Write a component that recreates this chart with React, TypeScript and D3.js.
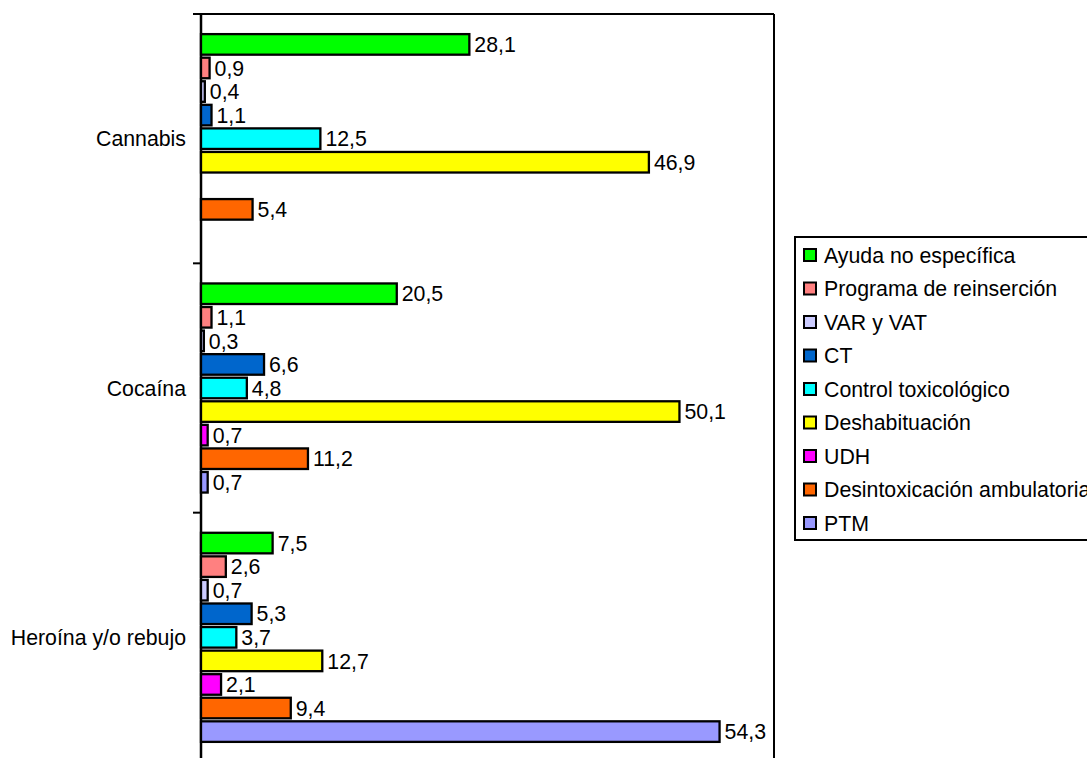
import React from "react";
import * as d3 from "d3";

const categories = ["Cannabis", "Cocaína", "Heroína y/o rebujo"];
const seriesNames = [
  "Ayuda no específica",
  "Programa de reinserción",
  "VAR y VAT",
  "CT",
  "Control toxicológico",
  "Deshabituación",
  "UDH",
  "Desintoxicación ambulatoria",
  "PTM",
];
const seriesColors = [
  "#00FF00",
  "#FF8080",
  "#CCCCFF",
  "#0066CC",
  "#00FFFF",
  "#FFFF00",
  "#FF00FF",
  "#FF6600",
  "#9999FF",
];
const cannabisValues: (number | null)[] = [28.1, 0.9, 0.4, 1.1, 12.5, 46.9, null, 5.4, null];
const cocainaValues: (number | null)[] = [20.5, 1.1, 0.3, 6.6, 4.8, 50.1, 0.7, 11.2, 0.7];
const heroinaValues: (number | null)[] = [7.5, 2.6, 0.7, 5.3, 3.7, 12.7, 2.1, 9.4, 54.3];
const valuesByCategory = [cannabisValues, cocainaValues, heroinaValues];
const xDomain = [0, 60];

const W = 1087;
const H = 758;
const FONT = "'Liberation Sans', Arial, sans-serif";
const FS = 21.3;

export default function App() {
  const plot = { left: 201, right: 774, top: 14, bottom: 762 };
  const x = d3.scaleLinear().domain(xDomain).range([plot.left, plot.right]);
  const y0 = d3.scaleBand<string>().domain(categories).range([plot.top, plot.bottom]).padding(0);
  const y1 = d3
    .scaleBand<string>()
    .domain(seriesNames)
    .range([0, y0.bandwidth()])
    .paddingInner(0)
    .paddingOuter(0.79);
  const fmt = (v: number) => d3.format(".1f")(v).replace(".", ",");
  const step = y1.step();
  const barH = step - 3;

  const boundaries = categories.map((c) => y0(c) as number).concat([plot.bottom]);

  const legend = { x: 795, y: 237, w: 320, h: 303 };
  const rowStep = 33.5;

  return (
    <div style={{ position: "absolute", left: 0, top: 0 }}>
      <svg width={W} height={H} style={{ display: "block", background: "#fff" }}>
        <line x1={plot.left - 8} x2={plot.right} y1={plot.top} y2={plot.top} stroke="#000" strokeWidth={2} />
        <line x1={plot.right} x2={plot.right} y1={plot.top} y2={plot.bottom} stroke="#000" strokeWidth={2} />
        <line x1={plot.left} x2={plot.left} y1={plot.top} y2={plot.bottom} stroke="#000" strokeWidth={2.5} />
        {boundaries.map((b, i) => (
          <line key={i} x1={plot.left - 8} x2={plot.left} y1={b} y2={b} stroke="#000" strokeWidth={2} />
        ))}
        {categories.map((c, ci) => (
          <g key={c} transform={`translate(0,${y0(c)})`}>
            {valuesByCategory[ci].map((v, si) => {
              if (v === null) return null;
              const yy = (y1(seriesNames[si]) as number) + (step - barH) / 2;
              return (
                <g key={si}>
                  <rect
                    x={x(0)}
                    y={yy}
                    width={Math.max(x(v) - x(0), 0.5)}
                    height={barH}
                    fill={seriesColors[si]}
                    stroke="#000"
                    strokeWidth={2.3}
                  />
                  <text
                    x={x(v) + 5}
                    y={yy + barH / 2}
                    dy="0.36em"
                    fontFamily={FONT}
                    fontSize={FS}
                    fill="#000"
                  >
                    {fmt(v)}
                  </text>
                </g>
              );
            })}
          </g>
        ))}
        {categories.map((c) => (
          <text
            key={c}
            x={plot.left - 15}
            y={(y0(c) as number) + y0.bandwidth() / 2}
            dy="0.36em"
            textAnchor="end"
            fontFamily={FONT}
            fontSize={FS}
            fill="#000"
          >
            {c}
          </text>
        ))}
        <rect x={legend.x} y={legend.y} width={legend.w} height={legend.h} fill="#fff" stroke="#000" strokeWidth={2} />
        {seriesNames.map((s, i) => {
          const cy = legend.y + 18 + i * rowStep;
          return (
            <g key={s}>
              <rect x={legend.x + 9} y={cy - 6} width={12} height={12} fill={seriesColors[i]} stroke="#000" strokeWidth={2} />
              <text x={legend.x + 29} y={cy} dy="0.36em" fontFamily={FONT} fontSize={FS} fill="#000">
                {s}
              </text>
            </g>
          );
        })}
      </svg>
    </div>
  );
}
